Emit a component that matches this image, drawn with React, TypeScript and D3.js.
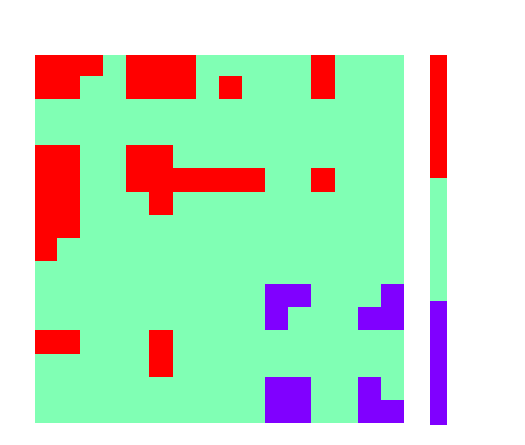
import React from "react"
import * as d3 from "d3"

// 0 = low (purple), 1 = mid (green), 2 = high (red)
const rows = [
  [2, 2, 2, 1, 2, 2, 2, 1, 1, 1, 1, 1, 2, 1, 1, 1],
  [2, 2, 1, 1, 2, 2, 2, 1, 2, 1, 1, 1, 2, 1, 1, 1],
  [1, 1, 1, 1, 1, 1, 1, 1, 1, 1, 1, 1, 1, 1, 1, 1],
  [1, 1, 1, 1, 1, 1, 1, 1, 1, 1, 1, 1, 1, 1, 1, 1],
  [2, 2, 1, 1, 2, 2, 1, 1, 1, 1, 1, 1, 1, 1, 1, 1],
  [2, 2, 1, 1, 2, 2, 2, 2, 2, 2, 1, 1, 2, 1, 1, 1],
  [2, 2, 1, 1, 1, 2, 1, 1, 1, 1, 1, 1, 1, 1, 1, 1],
  [2, 2, 1, 1, 1, 1, 1, 1, 1, 1, 1, 1, 1, 1, 1, 1],
  [2, 1, 1, 1, 1, 1, 1, 1, 1, 1, 1, 1, 1, 1, 1, 1],
  [1, 1, 1, 1, 1, 1, 1, 1, 1, 1, 1, 1, 1, 1, 1, 1],
  [1, 1, 1, 1, 1, 1, 1, 1, 1, 1, 0, 0, 1, 1, 1, 0],
  [1, 1, 1, 1, 1, 1, 1, 1, 1, 1, 0, 1, 1, 1, 0, 0],
  [2, 2, 1, 1, 1, 2, 1, 1, 1, 1, 1, 1, 1, 1, 1, 1],
  [1, 1, 1, 1, 1, 2, 1, 1, 1, 1, 1, 1, 1, 1, 1, 1],
  [1, 1, 1, 1, 1, 1, 1, 1, 1, 1, 0, 0, 1, 1, 0, 1],
  [1, 1, 1, 1, 1, 1, 1, 1, 1, 1, 0, 0, 1, 1, 0, 0],
]
const levels = [2, 1, 0]
const levelColors = ["#8000ff", "#80ffb4", "#ff0000"]

const W = 525
const H = 445

export default function App() {
  const nRows = rows.length
  const nCols = rows[0].length

  // plot area (image extends a bit past the top/left edge and is clipped)
  const plot = { left: 35, top: 55, right: 404, bottom: 423 }

  const x = d3.scaleBand<number>().domain(d3.range(nCols)).range([33.8, plot.right]).paddingInner(0)
  const y = d3.scaleBand<number>().domain(d3.range(nRows)).range([52.7, plot.bottom]).paddingInner(0)
  const color = d3.scaleLinear<string>().domain([0, 1, 2]).range(levelColors)

  const cb = d3.scaleBand<number>().domain(levels).range([55, 424])

  const cells = rows.flatMap((r, i) => r.map((v, j) => ({ i, j, v })))

  return (
    <svg
      width={W}
      height={H}
      style={{ position: "absolute", left: 0, top: 0, display: "block" }}
    >
      <rect width={W} height={H} fill="white" />
      <defs>
        <clipPath id="plot-clip">
          <rect
            x={plot.left}
            y={plot.top}
            width={plot.right - plot.left}
            height={plot.bottom - plot.top}
          />
        </clipPath>
      </defs>
      <g clipPath="url(#plot-clip)" shapeRendering="crispEdges">
        {cells.map((d) => (
          <rect
            key={`${d.i}-${d.j}`}
            x={x(d.j)}
            y={y(d.i)}
            width={x.bandwidth() + 0.5}
            height={y.bandwidth() + 0.5}
            fill={color(d.v)}
          />
        ))}
      </g>
      {/* colorbar */}
      <g shapeRendering="crispEdges">
        {levels.map((l) => (
          <rect key={l} x={430} y={cb(l)} width={17} height={cb.bandwidth() + 0.5} fill={color(l)} />
        ))}
      </g>
    </svg>
  )
}
